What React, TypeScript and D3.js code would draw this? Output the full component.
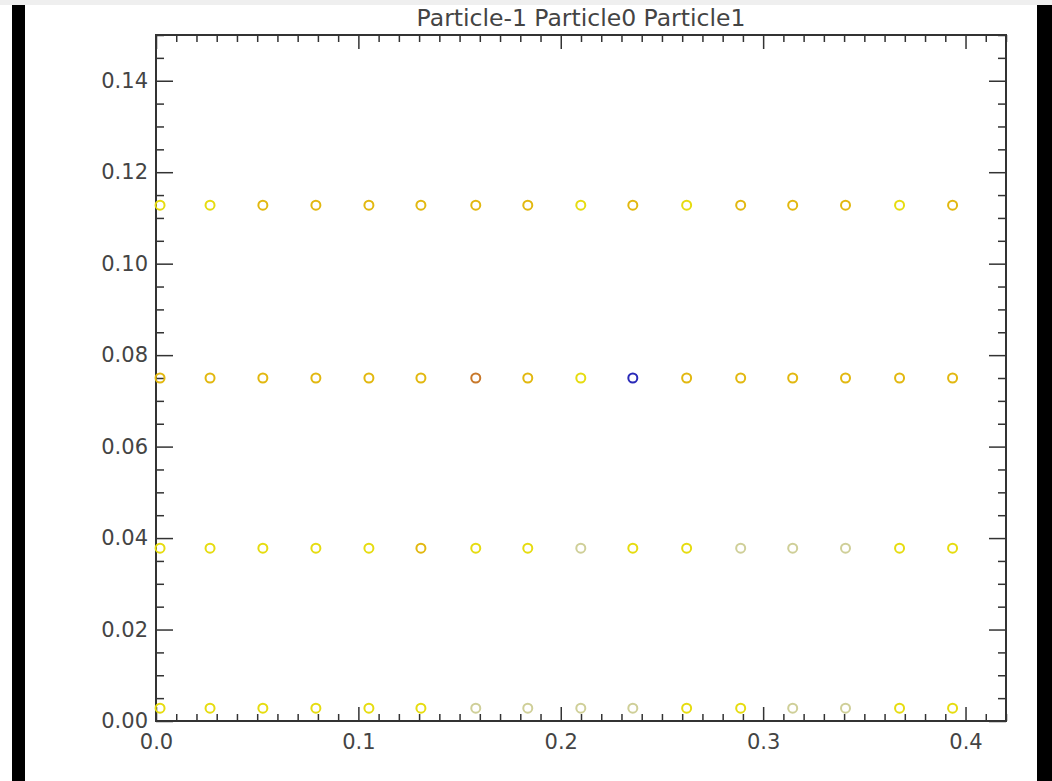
import { useRef, useEffect } from 'react';
import * as d3 from 'd3';

// column positions (x)
const xs = [0.002, 0.0267, 0.0528, 0.079, 0.1052, 0.1309, 0.158, 0.1837, 0.2099, 0.2356, 0.2622, 0.2889, 0.3146, 0.3407, 0.3674, 0.3936];
// row positions (y)
const rows = [0.1128, 0.075, 0.0378, 0.0028];
// colour code per point, one string per row (y=yellow, g=gold, o=orange, b=blue, l=pale)
const rowColors = [
    ['y', 'y', 'g', 'g', 'g', 'g', 'g', 'g', 'y', 'g', 'y', 'g', 'g', 'g', 'y', 'g'],
    ['g', 'g', 'g', 'g', 'g', 'g', 'o', 'g', 'y', 'b', 'g', 'g', 'g', 'g', 'g', 'g'],
    ['y', 'y', 'y', 'y', 'y', 'g', 'y', 'y', 'l', 'y', 'y', 'l', 'l', 'l', 'y', 'y'],
    ['y', 'y', 'y', 'y', 'y', 'y', 'l', 'l', 'l', 'l', 'y', 'y', 'l', 'l', 'y', 'y'],
];
const palette = { y: '#e6dc10', g: '#e2b810', o: '#c8782a', b: '#2a2ab8', l: '#cfcf98' };

const xMajor = [0, 0.1, 0.2, 0.3, 0.4];
const yMajor = [0, 0.02, 0.04, 0.06, 0.08, 0.1, 0.12, 0.14];
const title = 'Particle-1 Particle0 Particle1';

function Chart() {
    const ref = useRef(null);

    useEffect(() => {
        d3.select(ref.current).selectAll('*').remove();
        const svg = d3.select(ref.current);

        // frame of the surrounding screenshot
        svg.append('rect').attr('x', 0).attr('y', 0).attr('width', 1052).attr('height', 781).attr('fill', '#fff');
        svg.append('rect').attr('x', 0).attr('y', 0).attr('width', 1052).attr('height', 5).attr('fill', '#efefef');
        svg.append('rect').attr('x', 12).attr('y', 5).attr('width', 13).attr('height', 776).attr('fill', '#000');
        svg.append('rect').attr('x', 1037).attr('y', 5).attr('width', 15).attr('height', 776).attr('fill', '#000');

        const left = 156, right = 1006, top = 35, bottom = 721;
        const x = d3.scaleLinear().domain([0, 0.42]).range([left, right]);
        const y = d3.scaleLinear().domain([0, 0.15]).range([bottom, top]);

        const xMinor = d3.range(0, 43).map(i => i / 100).filter(v => !xMajor.some(m => Math.abs(m - v) < 1e-9));
        const yMinor = d3.range(0, 31).map(i => i * 0.005).filter(v => !yMajor.some(m => Math.abs(m - v) < 1e-9));

        const font = (g) => g.attr('font-family', '"DejaVu Sans", sans-serif').attr('font-size', 21);
        const style = (g) => {
            g.select('.domain').remove();
            g.selectAll('line').attr('stroke', '#333').attr('stroke-width', 1.5);
            g.selectAll('text').attr('fill', '#444');
        };

        svg.append('g').attr('transform', `translate(0,${bottom})`)
            .call(d3.axisBottom(x).tickValues(xMajor).tickSize(-14).tickPadding(13).tickFormat(d3.format('.1f')))
            .call(font).call(style);
        svg.append('g').attr('transform', `translate(0,${bottom})`)
            .call(d3.axisBottom(x).tickValues(xMinor).tickSize(-7).tickFormat(() => ''))
            .call(style);
        svg.append('g').attr('transform', `translate(0,${top})`)
            .call(d3.axisTop(x).tickValues(xMajor).tickSize(-14).tickFormat(() => ''))
            .call(style);
        svg.append('g').attr('transform', `translate(0,${top})`)
            .call(d3.axisTop(x).tickValues(xMinor).tickSize(-7).tickFormat(() => ''))
            .call(style);

        svg.append('g').attr('transform', `translate(${left},0)`)
            .call(d3.axisLeft(y).tickValues(yMajor).tickSize(-17).tickPadding(8).tickFormat(d3.format('.2f')))
            .call(font).call(style);
        svg.append('g').attr('transform', `translate(${left},0)`)
            .call(d3.axisLeft(y).tickValues(yMinor).tickSize(-8).tickFormat(() => ''))
            .call(style);
        svg.append('g').attr('transform', `translate(${right},0)`)
            .call(d3.axisRight(y).tickValues(yMajor).tickSize(-17).tickFormat(() => ''))
            .call(style);
        svg.append('g').attr('transform', `translate(${right},0)`)
            .call(d3.axisRight(y).tickValues(yMinor).tickSize(-8).tickFormat(() => ''))
            .call(style);

        svg.append('rect')
            .attr('x', left).attr('y', top)
            .attr('width', right - left).attr('height', bottom - top)
            .attr('fill', 'none').attr('stroke', '#333').attr('stroke-width', 2);

        const points = rows.flatMap((ry, r) => xs.map((px, i) => ({ x: px, y: ry, c: rowColors[r][i] })));
        svg.append('g').selectAll('circle')
            .data(points)
            .enter().append('circle')
            .attr('cx', d => x(d.x))
            .attr('cy', d => y(d.y))
            .attr('r', 4.5)
            .attr('fill', 'none')
            .attr('stroke', d => palette[d.c])
            .attr('stroke-width', 2);

        svg.append('text')
            .attr('x', (left + right) / 2)
            .attr('y', 26)
            .attr('text-anchor', 'middle')
            .attr('font-family', '"DejaVu Sans", sans-serif')
            .attr('font-size', 23.5)
            .attr('fill', '#444')
            .text(title);
    }, []);

    return <svg ref={ref} width={1052} height={781} style={{ position: 'absolute', left: 0, top: 0 }} />;
}

export default function App() {
    return <Chart />;
}
